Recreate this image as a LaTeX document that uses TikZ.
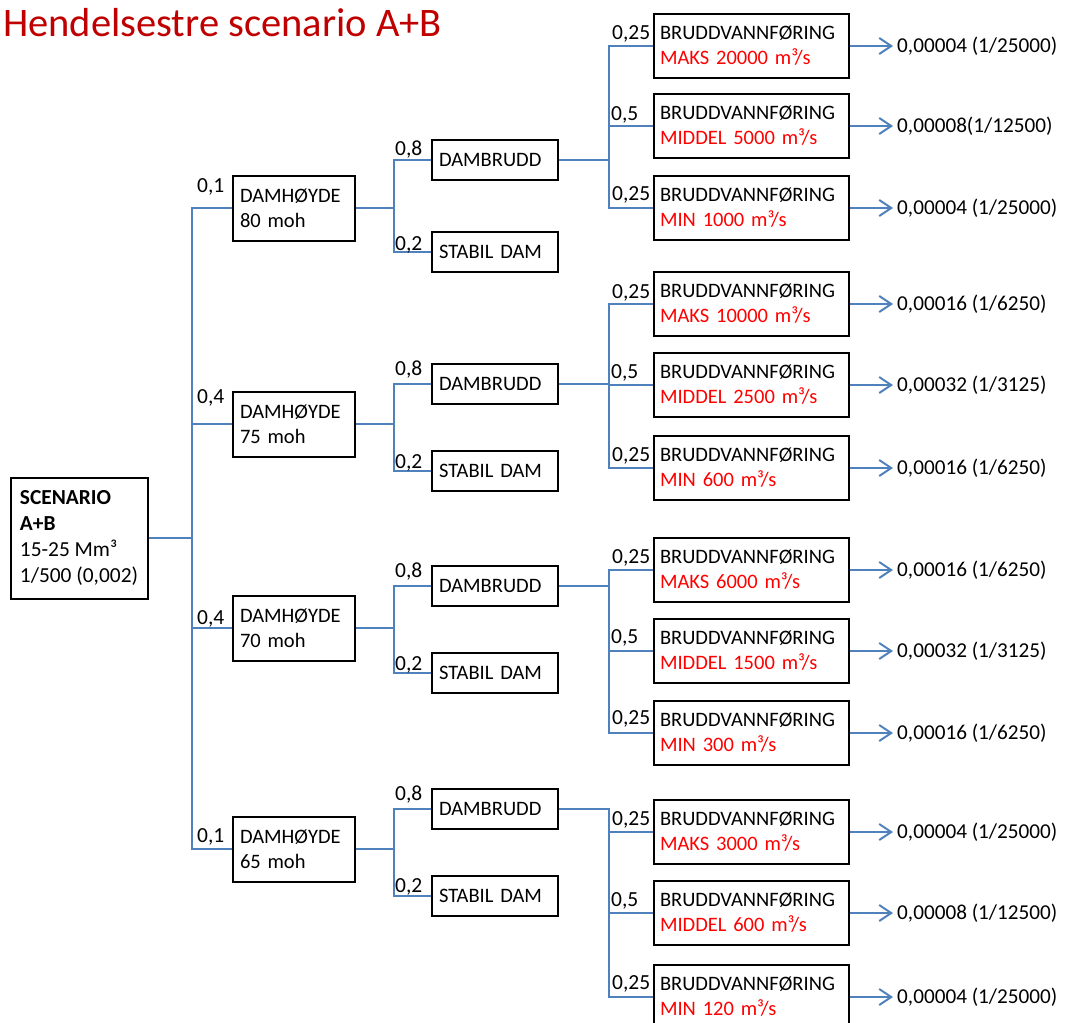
\documentclass[tikz,border=0pt]{standalone}
\usepackage{fontspec}
\setmainfont{Carlito}
\usetikzlibrary{arrows.meta}
\definecolor{linjeblaa}{RGB}{79,129,189}
\definecolor{tittelrod}{RGB}{192,0,0}
\definecolor{verdirod}{RGB}{255,0,0}
\newcommand{\rod}[1]{\textcolor{verdirod}{#1}}

\tikzset{
  boks/.style={draw=black, line width=2pt, align=left, font=\fontsize{20.5}{25}\selectfont},
  scboks/.style={boks, minimum width=137pt, minimum height=121pt, font=\fontsize{21.4}{26}\selectfont},
  dhboks/.style={boks, inner xsep=7pt, text width=108pt, minimum height=65pt},
  dbboks/.style={boks, inner xsep=7pt, text width=112pt, minimum height=40pt},
  brboks/.style={boks, inner xsep=6pt, text width=183pt, minimum height=64pt},
  gren/.style={draw=linjeblaa, line width=2pt},
  pil/.style={gren, -{Straight Barb[length=12pt,width=16pt]}},
  sanns/.style={anchor=base west, inner sep=0pt, font=\fontsize{21.5}{25}\selectfont},
  utfall/.style={anchor=west, inner xsep=4pt, font=\fontsize{21.2}{25}\selectfont},
}

\begin{document}
\begin{tikzpicture}[x=1pt, y=-1pt]
  \useasboundingbox (0,0) rectangle (1069,1023);
  \clip (0,0) rectangle (1069,1023);

  \node[anchor=base west, inner sep=0pt, text=tittelrod, font=\fontsize{40.5}{44}\selectfont] (tittel) at (3,36) {Hendelsestre scenario A+B};

  % scenario
  \node[scboks] (sc) at (79,538) {\textbf{SCENARIO}\\\textbf{A+B}\\15-25 Mm³\\1/500 (0,002)};

  % damhoyde
  \node[dhboks] (dh1) at (294,208) {DAMHØYDE\\80 moh};
  \node[dhboks] (dh2) at (294,424) {DAMHØYDE\\75 moh};
  \node[dhboks] (dh3) at (294,628) {DAMHØYDE\\70 moh};
  \node[dhboks] (dh4) at (294,849) {DAMHØYDE\\65 moh};

  % dambrudd / stabil dam
  \node[dbboks] (db1) at (495,160) {DAMBRUDD};
  \node[dbboks] (sd1) at (495,252) {STABIL DAM};
  \node[dbboks] (db2) at (495,384) {DAMBRUDD};
  \node[dbboks] (sd2) at (495,471) {STABIL DAM};
  \node[dbboks] (db3) at (495,586) {DAMBRUDD};
  \node[dbboks] (sd3) at (495,673) {STABIL DAM};
  \node[dbboks] (db4) at (495,809) {DAMBRUDD};
  \node[dbboks] (sd4) at (495,896) {STABIL DAM};

  % bruddvannforing
  \node[brboks] (b11) at (751.5,46) {BRUDDVANNFØRING\\\rod{MAKS 20000 m³/s}};
  \node[brboks] (b12) at (751.5,126) {BRUDDVANNFØRING\\\rod{MIDDEL 5000 m³/s}};
  \node[brboks] (b13) at (751.5,208) {BRUDDVANNFØRING\\\rod{MIN 1000 m³/s}};
  \node[brboks] (b21) at (751.5,304) {BRUDDVANNFØRING\\\rod{MAKS 10000 m³/s}};
  \node[brboks] (b22) at (751.5,385) {BRUDDVANNFØRING\\\rod{MIDDEL 2500 m³/s}};
  \node[brboks] (b23) at (751.5,468) {BRUDDVANNFØRING\\\rod{MIN 600 m³/s}};
  \node[brboks] (b31) at (751.5,570) {BRUDDVANNFØRING\\\rod{MAKS 6000 m³/s}};
  \node[brboks] (b32) at (751.5,651) {BRUDDVANNFØRING\\\rod{MIDDEL 1500 m³/s}};
  \node[brboks] (b33) at (751.5,733) {BRUDDVANNFØRING\\\rod{MIN 300 m³/s}};
  \node[brboks] (b41) at (751.5,832) {BRUDDVANNFØRING\\\rod{MAKS 3000 m³/s}};
  \node[brboks] (b42) at (751.5,913) {BRUDDVANNFØRING\\\rod{MIDDEL 600 m³/s}};
  \node[brboks] (b43) at (751.5,997) {BRUDDVANNFØRING\\\rod{MIN 120 m³/s}};

  % utfall
  \node[utfall] (u11) at (893,46) {0,00004 (1/25000)};
  \node[utfall] (u12) at (893,126) {0,00008(1/12500)};
  \node[utfall] (u13) at (893,208) {0,00004 (1/25000)};
  \node[utfall] (u21) at (893,304) {0,00016 (1/6250)};
  \node[utfall] (u22) at (893,385) {0,00032 (1/3125)};
  \node[utfall] (u23) at (893,468) {0,00016 (1/6250)};
  \node[utfall] (u31) at (893,570) {0,00016 (1/6250)};
  \node[utfall] (u32) at (893,651) {0,00032 (1/3125)};
  \node[utfall] (u33) at (893,733) {0,00016 (1/6250)};
  \node[utfall] (u41) at (893,832) {0,00004 (1/25000)};
  \node[utfall] (u42) at (893,913) {0,00008 (1/12500)};
  \node[utfall] (u43) at (893,997) {0,00004 (1/25000)};

  % greiner
  \foreach \i in {1,...,4}{
    \draw[gren] (sc.east) -- +(43,0) |- (dh\i.west);
    \draw[gren] (dh\i.east) -- +(38,0) |- (db\i.west);
    \draw[gren] (dh\i.east) -- +(38,0) |- (sd\i.west);
    \foreach \j in {1,2,3}{
      \draw[gren] (db\i.east) -- +(50,0) |- (b\i\j.west);
      \draw[pil] (b\i\j.east) -- (u\i\j.west);
    }
  }

  % sannsynligheter
  \node[sanns] (p1) at (197,192) {0,1};
  \node[sanns] (p2) at (197,403) {0,4};
  \node[sanns] (p3) at (197,624) {0,4};
  \node[sanns] (p4) at (197,842) {0,1};

  \node[sanns] (q11) at (395,155) {0,8};
  \node[sanns] (q12) at (395,250) {0,2};
  \node[sanns] (q21) at (395,375) {0,8};
  \node[sanns] (q22) at (395,468) {0,2};
  \node[sanns] (q31) at (395,577) {0,8};
  \node[sanns] (q32) at (395,670) {0,2};
  \node[sanns] (q41) at (395,800) {0,8};
  \node[sanns] (q42) at (395,892) {0,2};

  \node[sanns] (r11) at (612,39) {0,25};
  \node[sanns] (r12) at (611,120) {0,5};
  \node[sanns] (r13) at (612,200) {0,25};
  \node[sanns] (r21) at (612,298) {0,25};
  \node[sanns] (r22) at (611,378) {0,5};
  \node[sanns] (r23) at (612,461) {0,25};
  \node[sanns] (r31) at (612,563) {0,25};
  \node[sanns] (r32) at (611,643) {0,5};
  \node[sanns] (r33) at (612,724) {0,25};
  \node[sanns] (r41) at (612,825) {0,25};
  \node[sanns] (r42) at (611,906) {0,5};
  \node[sanns] (r43) at (612,989) {0,25};
\end{tikzpicture}
\end{document}
